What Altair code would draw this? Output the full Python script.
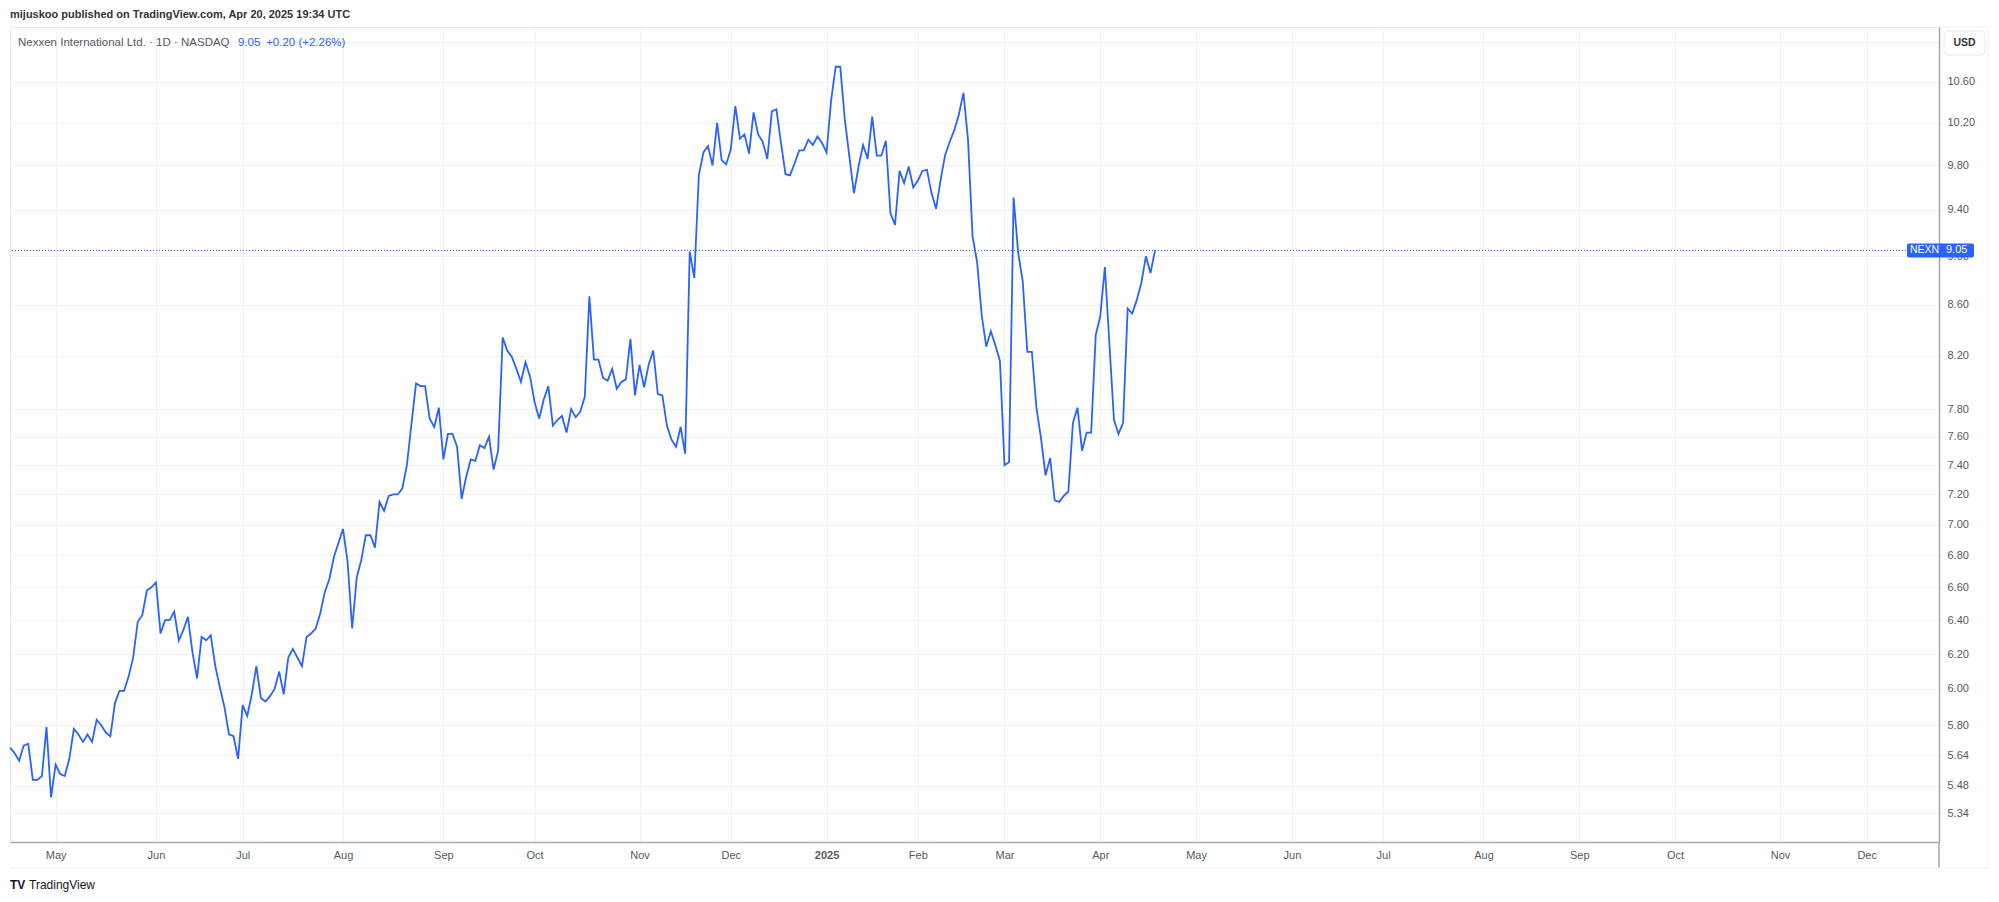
import json
import altair as alt
import pandas as pd

# ---- data (daily closes, NEXN, trading-day index 0 = 2024-04-17) ----
closes = [
    5.68, 5.65, 5.61, 5.69, 5.70, 5.51, 5.51, 5.53, 5.79, 5.42,
    5.59, 5.54, 5.53, 5.62, 5.78, 5.75, 5.71, 5.75, 5.71, 5.83,
    5.80, 5.76, 5.74, 5.92, 5.99, 5.99, 6.07, 6.18, 6.39, 6.43,
    6.58, 6.60, 6.63, 6.32, 6.40, 6.40, 6.45, 6.28, 6.34, 6.42,
    6.21, 6.06, 6.30, 6.28, 6.31, 6.13, 6.01, 5.90, 5.75, 5.74,
    5.62, 5.91, 5.85, 5.97, 6.13, 5.95, 5.93, 5.96, 6.00, 6.10,
    5.97, 6.18, 6.23, 6.18, 6.13, 6.30, 6.32, 6.35, 6.44, 6.57,
    6.65, 6.79, 6.88, 6.97, 6.76, 6.35, 6.66, 6.77, 6.93, 6.93,
    6.85, 7.15, 7.09, 7.19, 7.20, 7.20, 7.24, 7.40, 7.69, 7.99,
    7.97, 7.97, 7.73, 7.67, 7.81, 7.44, 7.62, 7.62, 7.53, 7.17,
    7.32, 7.44, 7.43, 7.54, 7.52, 7.60, 7.37, 7.50, 8.34, 8.24,
    8.19, 8.10, 8.00, 8.15, 8.04, 7.85, 7.73, 7.87, 7.97, 7.68,
    7.72, 7.75, 7.63, 7.80, 7.74, 7.78, 7.89, 8.67, 8.17, 8.17,
    8.03, 8.01, 8.10, 7.95, 8.00, 8.02, 8.33, 7.90, 8.13, 7.96,
    8.13, 8.24, 7.91, 7.90, 7.68, 7.58, 7.53, 7.67, 7.48, 9.04,
    8.82, 9.71, 9.92, 9.98, 9.80, 10.20, 9.85, 9.81, 9.95, 10.36,
    10.05, 10.09, 9.91, 10.30, 10.09, 10.02, 9.86, 10.31, 10.33, 10.01,
    9.72, 9.71, 9.82, 9.94, 9.94, 10.04, 9.99, 10.07, 10.01, 9.92,
    10.42, 10.75, 10.75, 10.23, 9.88, 9.55, 9.79, 9.99, 9.86, 10.26,
    9.89, 9.89, 10.03, 9.37, 9.27, 9.75, 9.64, 9.79, 9.60, 9.66,
    9.75, 9.76, 9.55, 9.41, 9.67, 9.90, 10.02, 10.13, 10.28, 10.49,
    10.04, 9.17, 8.95, 8.52, 8.27, 8.39, 8.28, 8.16, 7.40, 7.42,
    9.51, 9.03, 8.79, 8.23, 8.23, 7.81, 7.59, 7.33, 7.45, 7.16,
    7.15, 7.19, 7.22, 7.70, 7.81, 7.50, 7.63, 7.63, 8.36, 8.51,
    8.91, 8.29, 7.72, 7.62, 7.70, 8.57, 8.53, 8.64, 8.78, 9.00,
    8.86, 9.05,
]

month_idx = [10, 32, 51, 73, 95, 115, 138, 158, 179, 199, 218, 239,
             260, 281, 301, 323, 344, 365, 388, 407]
month_lbl = ["May", "Jun", "Jul", "Aug", "Sep", "Oct", "Nov", "Dec", "2025", "Feb", "Mar", "Apr",
             "May", "Jun", "Jul", "Aug", "Sep", "Oct", "Nov", "Dec"]
price_ticks = [5.34, 5.48, 5.64, 5.80, 6.00, 6.20, 6.40, 6.60, 6.80, 7.00, 7.20, 7.40,
               7.60, 7.80, 8.20, 8.60, 9.00, 9.40, 9.80, 10.20, 10.60, 11.00]

symbol = "NEXN"
last_price = closes[-1]
header_text = "mijuskoo published on TradingView.com, Apr 20, 2025 19:34 UTC"
legend_name = "Nexxen International Ltd. \u00b7 1D \u00b7 NASDAQ"
legend_value = "9.05\u2002+0.20 (+2.26%)"
currency = "USD"

# ---- styles ----
BLUE = "#2962ff"
GRID = "#eef1f6"
AXIS = "#a3a6af"
LABEL = "#555a63"
FONT = "Liberation Sans"

df = pd.DataFrame({"i": list(range(len(closes))), "v": closes})
last_df = pd.DataFrame({"v": [last_price]})

x_scale = alt.Scale(domain=[0, 422.85], nice=False, zero=False)
y_scale = alt.Scale(type="log", domain=[5.1985, 11.158], nice=False, zero=False)

label_expr = f"{json.dumps(month_lbl)}[indexof({json.dumps(month_idx)}, datum.value)]"

x_axis = alt.Axis(
    values=month_idx, labelExpr=label_expr, grid=True, gridColor=GRID, gridWidth=1,
    ticks=False, domainColor=AXIS, domainWidth=1.5, labelColor=LABEL, labelFontSize=11,
    labelFont=FONT, labelPadding=7, title=None, labelFlush=False, labelOverlap=False,
    labelFontWeight={"condition": {"test": "datum.value == 179", "value": "bold"}, "value": "normal"},
)
y_axis = alt.Axis(
    orient="right", values=price_ticks,
    labelExpr="datum.value > 10.9 ? '' : format(datum.value, '.2f')",
    grid=True, gridColor=GRID, gridWidth=1, ticks=False, domainColor=AXIS, domainWidth=1.5,
    labelColor=LABEL, labelFontSize=11, labelFont=FONT, labelPadding=8, labelAlign="left",
    labelBaseline="middle", title=None, labelOverlap=False, labelFlush=False,
)

Y = alt.Y("v:Q", scale=y_scale, axis=y_axis)

line = alt.Chart(df).mark_line(color=BLUE, strokeWidth=1.8).encode(
    x=alt.X("i:Q", scale=x_scale, axis=x_axis),
    y=Y,
)

price_line = alt.Chart(last_df).mark_rule(color=BLUE, strokeWidth=1, strokeDash=[1, 2]).encode(y=Y)

price_box = alt.Chart(last_df).mark_rect(color=BLUE, yOffset=-7, y2Offset=7, cornerRadius=2).encode(
    x=alt.value(1897), x2=alt.value(1964), y=Y, y2="v:Q",
)
price_sym = alt.Chart(last_df).mark_text(
    text=symbol, color="white", font=FONT, fontSize=10.5, align="left", baseline="middle"
).encode(x=alt.value(1900), y=Y)
price_val = alt.Chart(last_df).mark_text(
    color="white", font=FONT, fontSize=11, align="left", baseline="middle"
).encode(x=alt.value(1936), y=Y, text=alt.Text("v:Q", format=".2f"))

one = pd.DataFrame({"a": [0]})

header = alt.Chart(one).mark_text(
    text=header_text, font=FONT, fontSize=11, fontWeight="bold", color="#333333",
    align="left", baseline="middle"
).encode(x=alt.value(0), y=alt.value(-12))

legend_a = alt.Chart(one).mark_text(
    text=legend_name, font=FONT, fontSize=11.5, color="#555a63", align="left", baseline="middle"
).encode(x=alt.value(8), y=alt.value(15.5))
legend_b = alt.Chart(one).mark_text(
    text=legend_value, font=FONT, fontSize=11.5, color=BLUE, align="left", baseline="middle"
).encode(x=alt.value(228), y=alt.value(15.5))

usd_box = alt.Chart(one).mark_rect(
    fill="white", stroke="#e6e8ee", strokeWidth=1, cornerRadius=4
).encode(x=alt.value(1934), x2=alt.value(1975), y=alt.value(4), y2=alt.value(28))
usd_txt = alt.Chart(one).mark_text(
    text=currency, font=FONT, fontSize=10.5, fontWeight="bold", color="#333333",
    align="center", baseline="middle"
).encode(x=alt.value(1954.5), y=alt.value(16))

# frame pieces of the TradingView panel
axis_ext = alt.Chart(one).mark_rule(color=AXIS, strokeWidth=1.5).encode(
    x=alt.value(1929), y=alt.value(815), y2=alt.value(841))
time_bottom = alt.Chart(one).mark_rule(color="#eceef2", strokeWidth=1).encode(
    x=alt.value(0), x2=alt.value(1978), y=alt.value(841))
right_border = alt.Chart(one).mark_rule(color="#eceef2", strokeWidth=1).encode(
    x=alt.value(1978), y=alt.value(0), y2=alt.value(841))
top_border = alt.Chart(one).mark_rule(color="#eceef2", strokeWidth=1).encode(
    x=alt.value(1929), x2=alt.value(1978), y=alt.value(0))

logo_mark = alt.Chart(one).mark_text(
    text="TV", font=FONT, fontSize=12, fontWeight="bold", color="#131722",
    align="left", baseline="middle"
).encode(x=alt.value(0), y=alt.value(858))
logo_txt = alt.Chart(one).mark_text(
    text="TradingView", font=FONT, fontSize=12, color="#131722",
    align="left", baseline="middle"
).encode(x=alt.value(19), y=alt.value(858))

chart = alt.layer(
    line, price_line, price_box, price_sym, price_val,
    header, legend_a, legend_b, usd_box, usd_txt,
    axis_ext, time_bottom, right_border, top_border, logo_mark, logo_txt,
).properties(
    width=1929, height=815,
    padding={"left": 2, "top": 19, "right": 52, "bottom": 52},
    autosize=alt.AutoSizeParams(type="none"),
    background="white",
).configure_view(stroke="#e6e9ef", strokeWidth=1)

chart.save("out.html", embed_options={"renderer": "svg", "actions": False})
